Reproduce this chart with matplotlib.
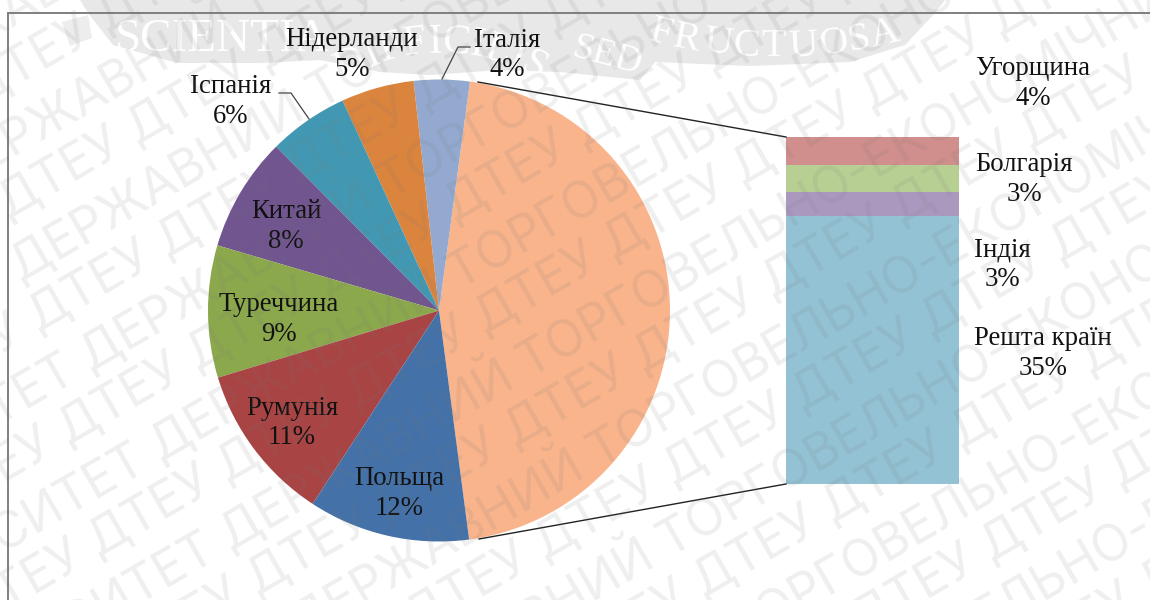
import matplotlib
matplotlib.use("Agg")
import matplotlib.pyplot as plt
from matplotlib.font_manager import FontProperties
from matplotlib.textpath import TextPath
import math

# main pie, anticlockwise from the big slice
pie_names = ["Решта", "Італія", "Нідерланди", "Іспанія", "Китай", "Туреччина", "Румунія", "Польща"]
pie_values = [45.8, 3.9, 5.1, 5.6, 8.0, 9.25, 11.1, 11.3]
pie_colors = ["#F9B48C", "#93A9CF", "#DB843D", "#4298B2", "#70558F", "#8BA84D", "#A94444", "#4472A8"]

# stacked bar, top to bottom
bar_names = ["Угорщина", "Болгарія", "Індія", "Решта країн"]
bar_values = [3.65, 3.55, 3.1, 35.0]
bar_colors = ["#D08E8C", "#B8CF93", "#AA98BF", "#93C2D4"]

# name, percent, centre x, y of first line, y of second line (pixels from top)
labels = [
    ("Нідерланди", "5%", 352, 38, 68),
    ("Італія", "4%", 507, 39, 68),
    ("Іспанія", "6%", 231, 85, 115),
    ("Китай", "8%", 286, 210, 240),
    ("Туреччина", "9%", 279, 303, 333),
    ("Румунія", "11%", 292, 407, 436),
    ("Польща", "12%", 399, 477, 507),
    ("Угорщина", "4%", 1033, 67, 97),
    ("Болгарія", "3%", 1024, 163, 193),
    ("Індія", "3%", 1002, 248, 278),
    ("Решта країн", "35%", 1043, 337, 367),
]

row_short = "ДТЕУ " * 12
row_long = "УНІВЕРСИТЕТ ДЕРЖАВНИЙ ТОРГОВЕЛЬНО-ЕКОНОМІЧНИЙ УНІВЕРСИТЕТ ДЕРЖАВНИЙ"


def py(y):
    return 600 - y


def arc_text(ax, word, cx, y_mid, radius, size):
    # letters along a circle: radius > 0 arches up, radius < 0 sags down
    prop = FontProperties(family="Liberation Serif", size=size)
    widths = [TextPath((0, 0), ch, prop=prop).get_extents().width * 100 / 72 + size * 0.14 for ch in word]
    pos = -sum(widths) / 2
    for ch, w in zip(word, widths):
        th = (pos + w / 2) / abs(radius)
        sign = 1 if radius > 0 else -1
        x = cx + abs(radius) * math.sin(th)
        y = y_mid + sign * abs(radius) * (1 - math.cos(th))
        ax.text(x, py(y), ch, fontproperties=prop, color="white", ha="center", va="center",
                rotation=-sign * math.degrees(th), rotation_mode="anchor", zorder=1)
        pos += w


fig = plt.figure(figsize=(11.5, 6), dpi=100)
ax = fig.add_axes([0, 0, 1, 1])

# crest ribbon behind the chart
ribbon = [(80, 0), (88, 13), (113, 45), (177, 63), (260, 63), (320, 60), (380, 72), (430, 75), (500, 70),
          (560, 72), (640, 80), (655, 62), (750, 66), (850, 62), (905, 45), (935, 13), (945, 0)]
ax.fill([p[0] for p in ribbon], [py(p[1]) for p in ribbon], color="#E8E8E8", lw=0, zorder=0)
ax.fill([62, 88, 92, 70], [py(22), py(15), py(38), py(46)], color="#EDEDED", lw=0, zorder=0)
ax.text(115, py(40), "SCIENTIA", family="Liberation Serif", fontsize=34, color="white", ha="left", va="center", zorder=1)
arc_text(ax, "DIFFICILIS", 440, 42, 190, 30)
ax.text(607, py(56), "SED", family="Liberation Serif", fontsize=27, color="white", ha="center", va="center", rotation=-15, zorder=1)
arc_text(ax, "FRUCTUOSA", 775, 47, -480, 29)

# frame: only top and left edges show
ax.plot([8, 1150], [py(12.5), py(12.5)], color="#7F7F7F", lw=1.4, zorder=2)
ax.plot([8, 8], [py(12.5), py(600)], color="#7F7F7F", lw=1.4, zorder=2)

ax.pie(pie_values, colors=pie_colors, startangle=-82.5, counterclock=True, radius=231,
       center=(439, py(310.5)), wedgeprops={"linewidth": 0, "zorder": 3})

# stacked bar, 347 px tall in all
bar_top = py(137)
bar_scale = 347 / sum(bar_values)
y = bar_top
for val, col in zip(bar_values, bar_colors):
    ax.bar(872.5, val * bar_scale, width=173, bottom=y - val * bar_scale, color=col, lw=0, zorder=3)
    y -= val * bar_scale

# connectors and leaders
ax.plot([478, 786], [py(82), py(137)], color="#222222", lw=1, zorder=4)
ax.plot([479, 786], [py(539), py(484)], color="#222222", lw=1, zorder=4)
ax.plot([470, 458, 442], [py(47), py(47), py(79)], color="#444444", lw=0.9, zorder=4)
ax.plot([279, 291, 309], [py(93), py(93), py(119)], color="#444444", lw=0.9, zorder=4)

for name, pct, cx, y1, y2 in labels:
    ax.text(cx, py(y1 + 1.5), name, family="Liberation Serif", fontsize=19.3, color="#111111", ha="center", va="center", zorder=5)
    ax.text(cx, py(y2 + 1.5), pct, family="Liberation Serif", fontsize=19.3, color="#111111", ha="center", va="center", zorder=5)

# diagonal watermark on top of everything, rows given by their height at the left edge
slope = math.tan(math.radians(30))
for k in range(-1, 11):
    for base, row, x0 in ((95 + 130 * k, row_short, -150 + 30 * k), (165 + 130 * k, row_long, -360 + 70 * k)):
        ax.text(x0, py(base - slope * x0), row, family="Inter", fontsize=36, color="#777777", alpha=0.12,
                rotation=30, rotation_mode="anchor", ha="left", va="baseline", zorder=6, clip_on=True)

ax.set_xlim(0, 1150)
ax.set_ylim(0, 600)
ax.set_aspect("auto")
ax.axis("off")

fig.savefig("out.png", dpi=100)
